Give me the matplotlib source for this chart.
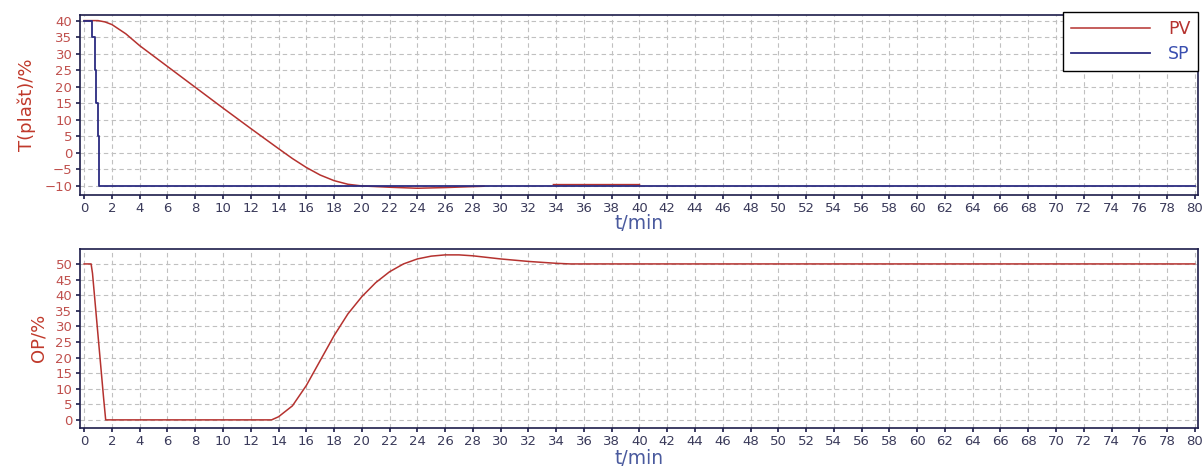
import numpy as np
import matplotlib.pyplot as plt

# PV (jacket temperature), NaN = gap in the trace
pv_t = [0, 0.8, 1, 1.5, 2, 3, 4, 6, 8, 10, 12, 14, 15, 16, 17, 18, 19, 20, 21, 22, 24, 26, 28, 28.8,
        29.0, 33.7, 33.8, 40]
pv_y = [40, 40, 40, 39.6, 38.8, 36.0, 32.4, 26.1, 19.8, 13.5, 7.3, 1.2, -1.8, -4.5, -6.8, -8.5, -9.6, -10.1,
        -10.3, -10.5, -10.8, -10.6, -10.3, -10.2, np.nan, np.nan, -9.7, -9.7]

sp_t = [0, 0.55, 0.75, 0.87, 0.98, 1.05, 80]
sp_y = [40, 35, 25, 15, 5, -10, -10]

op_t = [0, 0.5, 0.6, 0.8, 1.0, 1.2, 1.4, 1.55, 13.5, 14, 15, 16, 17, 18, 19, 20, 21, 22, 23, 24, 25, 26, 27,
        28, 29, 30, 31, 32, 33, 34, 35, 80]
op_y = [50, 50, 47, 37, 27, 17, 7, 0, 0, 1, 4.5, 11, 19, 27, 34, 39.5, 44, 47.5, 50, 51.6, 52.5, 52.9, 52.9,
        52.6, 52.1, 51.6, 51.2, 50.8, 50.5, 50.2, 50, 50]

xticks = list(range(0, 81, 2))
red = '#b5322f'
navy = '#2b2b80'
tick_col = '#3a3a5a'
ylab_col = '#c0392b'
xlab_col = '#4a5a9e'

fig = plt.figure(figsize=(12.03, 4.67), dpi=100)
ax1 = fig.add_axes([0.0665, 0.5835, 0.929, 0.3844])
ax2 = fig.add_axes([0.0665, 0.0842, 0.929, 0.3827])


def style(ax, ylim, yticks, ylabel, xlab_y):
    ax.set_xlim(-0.3, 80.2)
    ax.set_ylim(*ylim)
    ax.set_xticks(xticks)
    ax.set_yticks(yticks)
    ax.grid(True, linestyle=(0, (4, 3)), color='#c0c0c0', linewidth=0.8)
    ax.set_axisbelow(True)
    for s in ax.spines.values():
        s.set_color('#1c1c4a')
        s.set_linewidth(1.2)
    ax.tick_params(axis='x', colors='#1c1c4a', labelcolor=tick_col, labelsize=9.5, length=3, width=1.2, pad=2.5)
    ax.tick_params(axis='y', colors='#1c1c4a', labelcolor='#c0504d', labelsize=9.5, length=3, width=1.2, pad=2.5)
    ax.set_ylabel(ylabel, color=ylab_col, fontsize=13, labelpad=6)
    ax.set_xlabel('t/min', color=xlab_col, fontsize=13.5)
    ax.xaxis.label.set_va('center')
    ax.xaxis.set_label_coords(0.5, xlab_y)


ax1.plot(pv_t, pv_y, color=red, linewidth=1.1, label='PV')
ax1.plot(sp_t, sp_y, color=navy, linewidth=1.3, drawstyle='steps-post', label='SP')
style(ax1, (-12.7, 41.7), list(range(-10, 41, 5)), 'T(plašt)/%', -0.162)
leg = ax1.legend(loc='upper right', bbox_to_anchor=(0.9958, 0.974), bbox_transform=fig.transFigure,
                 fancybox=False, framealpha=1, edgecolor='black', fontsize=12.5, handlelength=4.6,
                 handletextpad=1.0, labelspacing=0.4, borderaxespad=0, borderpad=0.45)
leg.get_frame().set_linewidth(1.0)
for txt, c in zip(leg.get_texts(), [red, '#3a4fb0']):
    txt.set_color(c)

ax2.plot(op_t, op_y, color=red, linewidth=1.1)
style(ax2, (-2.5, 54.8), list(range(0, 51, 5)), 'OP/%', -0.17)

fig.savefig('out.png', dpi=100)
